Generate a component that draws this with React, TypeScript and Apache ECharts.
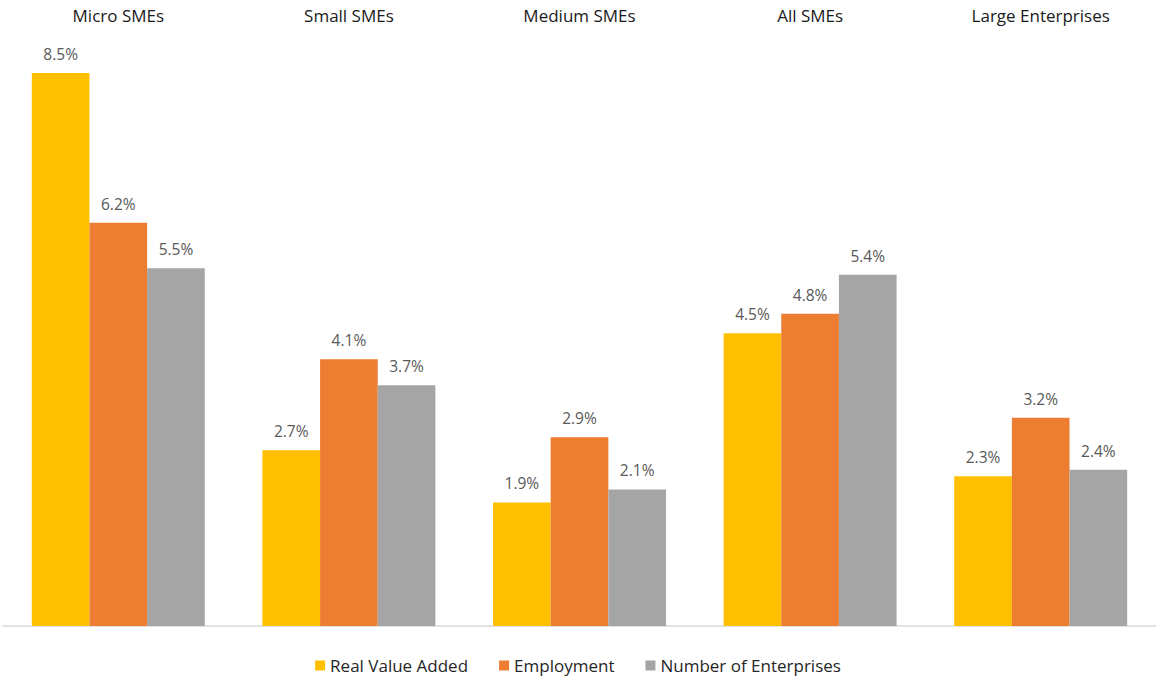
import React, { useEffect, useRef } from "react";
import * as echarts from "echarts";

const categories = ["Micro SMEs", "Small SMEs", "Medium SMEs", "All SMEs", "Large Enterprises"];
const realValueAdded = [8.5, 2.7, 1.9, 4.5, 2.3];
const employment = [6.2, 4.1, 2.9, 4.8, 3.2];
const numberOfEnterprises = [5.5, 3.7, 2.1, 5.4, 2.4];

const FONT = "Open Sans";

export default function App() {
  const ref = useRef<HTMLDivElement>(null);
  useEffect(() => {
    if (!ref.current) return;
    const chart = echarts.init(ref.current, undefined, { renderer: "svg" });
    const label = {
      show: true,
      position: "top" as const,
      distance: 11,
      color: "#595959",
      fontSize: 15.5,
      fontFamily: FONT,
      formatter: (p: any) => p.value.toFixed(1) + "%",
    };
    const mk = (name: string, data: number[], color: string) => ({
      name,
      type: "bar",
      data,
      barGap: "0%",
      barCategoryGap: "25%",
      itemStyle: { color },
      label,
    });
    chart.setOption({
      animation: false,
      textStyle: { fontFamily: FONT },
      grid: { left: 3, right: 0, top: 40.5, bottom: 52 },
      legend: {
        bottom: -1,
        left: "center",
        itemWidth: 10,
        itemHeight: 10,
        itemGap: 31,
        icon: "rect",
        textStyle: { fontSize: 17, color: "#262626", fontFamily: FONT },
        data: ["Real Value Added", "Employment", "Number of Enterprises"],
      },
      xAxis: [
        {
          type: "category",
          data: categories,
          position: "bottom",
          axisLine: { lineStyle: { color: "#D9D9D9", width: 1.5 } },
          axisTick: { show: false },
          axisLabel: { show: false },
        },
        {
          type: "category",
          data: categories,
          position: "top",
          axisLine: { show: false },
          axisTick: { show: false },
          axisLabel: { show: true, fontSize: 17, color: "#1a1a1a", fontFamily: FONT, margin: 17 },
        },
      ],
      yAxis: { type: "value", min: 0, max: 9, show: false, splitLine: { show: false } },
      series: [
        mk("Real Value Added", realValueAdded, "#FFC000"),
        mk("Employment", employment, "#ED7D31"),
        mk("Number of Enterprises", numberOfEnterprises, "#A5A5A5"),
      ],
    });
    return () => chart.dispose();
  }, []);
  return <div ref={ref} style={{ width: 1156, height: 678, position: "absolute", left: 0, top: 0, background: "#fff" }} />;
}
